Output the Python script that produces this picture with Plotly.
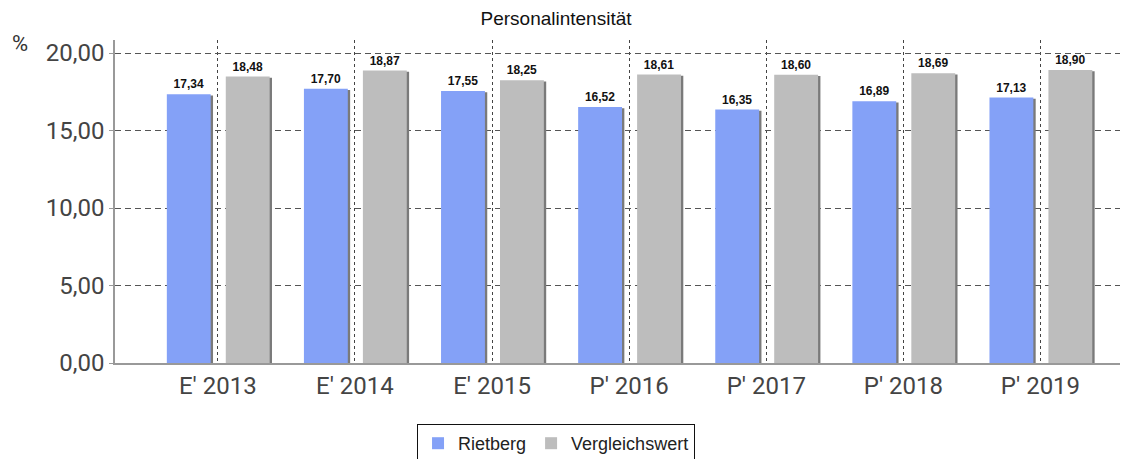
import plotly.graph_objects as go

# values
years = ["E' 2013", "E' 2014", "E' 2015", "P' 2016", "P' 2017", "P' 2018", "P' 2019"]
rietberg = [17.34, 17.70, 17.55, 16.52, 16.35, 16.89, 17.13]
vergleich = [18.48, 18.87, 18.25, 18.61, 18.60, 18.69, 18.90]

x = list(range(len(years)))


def labels(vals):
    return ["<b>" + f"{v:.2f}".replace(".", ",") + "</b>" for v in vals]


fig = go.Figure()

# shadows on the right side of the bars
for vals, off in [(rietberg, -0.355), (vergleich, 0.075)]:
    fig.add_trace(go.Bar(
        x=x, y=[v - 0.08 for v in vals], width=0.32, offset=off,
        marker=dict(color="#7a7a7a", line_width=0),
        showlegend=False, hoverinfo="skip",
    ))

fig.add_trace(go.Bar(
    x=x, y=rietberg, name="Rietberg", width=0.32, offset=-0.372,
    marker=dict(color="#84a1f7", line_width=0),
    text=labels(rietberg), textposition="outside", cliponaxis=False,
    textfont=dict(family="Liberation Sans", size=12, color="#111"),
))
fig.add_trace(go.Bar(
    x=x, y=vergleich, name="Vergleichswert", width=0.32, offset=0.058,
    marker=dict(color="#bdbdbd", line_width=0),
    text=labels(vergleich), textposition="outside", cliponaxis=False,
    textfont=dict(family="Liberation Sans", size=12, color="#111"),
))

# page body adds an 8px margin, so the figure is drawn 8px smaller
fig.update_layout(
    width=1133, height=451,
    barmode="overlay",
    separators=",.",
    paper_bgcolor="white", plot_bgcolor="white",
    margin=dict(l=107, r=21, t=32, b=96),
    font=dict(family="Roboto", color="#333"),
    title=dict(text="Personalintensität", x=0.4837, xanchor="center",
               y=0.978, yanchor="middle",
               font=dict(family="Liberation Sans", size=19, color="#111")),
    legend=dict(orientation="h", x=0.4837, xanchor="center", y=0.0776, yanchor="top",
                xref="container", yref="container",
                bordercolor="#111", borderwidth=1,
                font=dict(family="Liberation Sans", size=18, color="#222"),
                traceorder="normal", tracegroupgap=0,
                entrywidthmode="pixels"),
    showlegend=True,
    annotations=[dict(text="%", xref="paper", yref="paper", x=-0.104, y=0.99,
                      xanchor="left", yanchor="middle", showarrow=False,
                      font=dict(family="Roboto", size=22, color="#333"))],
)

fig.update_xaxes(
    range=[-0.75, 6.58], tickvals=x, ticktext=years,
    showgrid=True, gridcolor="#444", griddash="3px,3px", gridwidth=1,
    showline=True, linecolor="#999", linewidth=1.5,
    ticks="", tickfont=dict(size=24, color="#444"),
    zeroline=False,
)
fig.update_yaxes(
    range=[0, 20.84], tickvals=[0, 5, 10, 15, 20], tickformat=".2f",
    showgrid=True, gridcolor="#555", griddash="6px,4px", gridwidth=1,
    showline=True, linecolor="#999", linewidth=1.5,
    ticks="outside", ticklen=4, tickcolor="#999",
    tickfont=dict(size=24, color="#444"),
    zeroline=False,
)

fig.write_html("out.html")
